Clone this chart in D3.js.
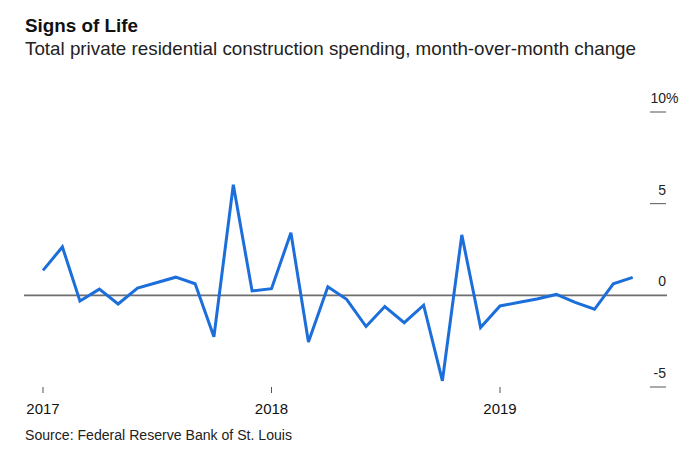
<!DOCTYPE html>
<html>
<head>
<meta charset="utf-8">
<script src="https://cdn.jsdelivr.net/npm/d3@7"></script>
<style>
  html, body { margin: 0; padding: 0; background: #fff; }
  svg { display: block; }
  text { font-family: "Liberation Sans", Arial, sans-serif; }
</style>
</head>
<body>
<svg id="chart" width="700" height="450"></svg>
<script>
// ---- Data ----
const months = [
  "2017-01","2017-02","2017-03","2017-04","2017-05","2017-06","2017-07","2017-08",
  "2017-09","2017-10","2017-11","2017-12","2018-01","2018-02","2018-03","2018-04",
  "2018-05","2018-06","2018-07","2018-08","2018-09","2018-10","2018-11","2018-12",
  "2019-01","2019-02","2019-03","2019-04","2019-05","2019-06","2019-07","2019-08"
];
const changePct = [
  1.36, 2.64, -0.31, 0.34, -0.47, 0.40, 0.69, 0.99,
  0.63, -2.26, 6.03, 0.24, 0.36, 3.41, -2.54, 0.47,
  -0.22, -1.70, -0.61, -1.49, -0.54, -4.66, 3.30, -1.76,
  -0.58, -0.38, -0.20, 0.05, -0.38, -0.76, 0.63, 0.98
];
const yTicks = [10, 5, 0, -5];
const xTickYears = ["2017", "2018", "2019"];

const title = "Signs of Life";
const subtitle = "Total private residential construction spending, month-over-month change";
const source = "Source: Federal Reserve Bank of St. Louis";

// ---- Chart ----
const svg = d3.select("#chart");
const parse = d3.timeParse("%Y-%m");
const data = months.map((m, i) => ({ date: parse(m), value: changePct[i] }));

const x = d3.scaleTime()
  .domain([parse("2017-01"), parse("2019-01")])
  .range([43, 500]);
const y = d3.scaleLinear()
  .domain([-5, 10])
  .range([387, 112]);

// titles
svg.append("text").attr("x", 25).attr("y", 32)
  .attr("font-size", 18.5).attr("font-weight", "bold").attr("fill", "#111")
  .attr("textLength", 113).attr("lengthAdjust", "spacingAndGlyphs")
  .text(title);
svg.append("text").attr("x", 25).attr("y", 55)
  .attr("font-size", 18.5).attr("fill", "#222")
  .attr("textLength", 611).attr("lengthAdjust", "spacingAndGlyphs")
  .text(subtitle);

// y ticks (short marks at right)
const yg = svg.append("g");
yTicks.forEach(t => {
  if (t !== 0) {
    yg.append("line")
      .attr("x1", 650).attr("x2", 666)
      .attr("y1", y(t)).attr("y2", y(t))
      .attr("stroke", "#555").attr("stroke-width", 1);
  }
  yg.append("text")
    .attr("x", 666).attr("y", y(t) - 9)
    .attr("font-size", 14).attr("fill", "#222")
    .attr("text-anchor", "end")
    .text(String(t));
  if (t === 10) {
    yg.append("text").attr("x", 666).attr("y", y(t) - 9)
      .attr("font-size", 14).attr("fill", "#222").text("%");
  }
});

// zero line
svg.append("line")
  .attr("x1", 24).attr("x2", 667)
  .attr("y1", y(0)).attr("y2", y(0))
  .attr("stroke", "#6e6e6e").attr("stroke-width", 1.6);

// x axis ticks
const xg = svg.append("g");
xTickYears.forEach(yr => {
  const xx = x(parse(yr + "-01"));
  xg.append("line")
    .attr("x1", xx).attr("x2", xx)
    .attr("y1", 387).attr("y2", 393)
    .attr("stroke", "#555").attr("stroke-width", 1);
  xg.append("text")
    .attr("x", xx).attr("y", 414)
    .attr("text-anchor", "middle")
    .attr("font-size", 15).attr("fill", "#111")
    .text(yr);
});

// line
const line = d3.line().x(d => x(d.date)).y(d => y(d.value));
svg.append("path")
  .datum(data)
  .attr("d", line)
  .attr("fill", "none")
  .attr("stroke", "#1c6fdb")
  .attr("stroke-width", 3)
  .attr("stroke-linejoin", "miter");

// source
svg.append("text").attr("x", 25).attr("y", 440)
  .attr("font-size", 14).attr("fill", "#222")
  .attr("textLength", 267).attr("lengthAdjust", "spacingAndGlyphs")
  .text(source);
</script>
</body>
</html>
